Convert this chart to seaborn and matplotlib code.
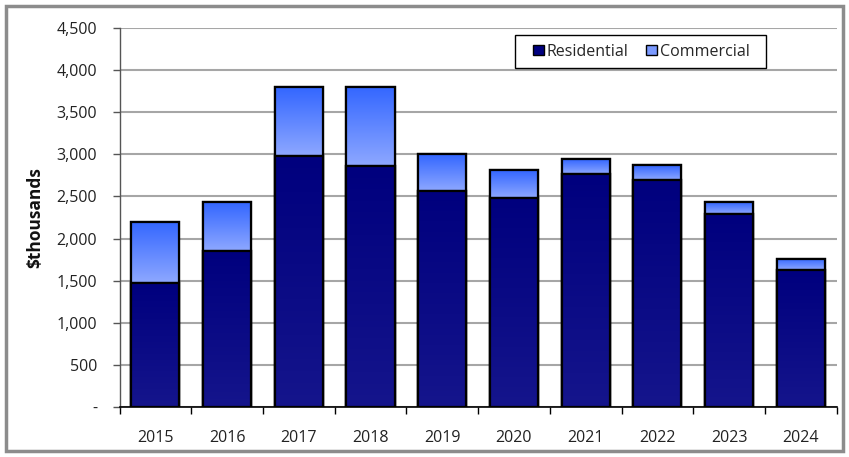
import numpy as np
import pandas as pd
import matplotlib
matplotlib.use("Agg")
import matplotlib.pyplot as plt
import matplotlib.patches as mpatches
from matplotlib.colors import LinearSegmentedColormap
import seaborn as sns

# Annual values, $thousands
years = ["2015", "2016", "2017", "2018", "2019", "2020", "2021", "2022", "2023", "2024"]
residential = [1470, 1850, 2980, 2860, 2570, 2480, 2770, 2700, 2290, 1620]
commercial = [730, 580, 820, 940, 430, 330, 170, 170, 140, 140]
y_ticks = [0, 500, 1000, 1500, 2000, 2500, 3000, 3500, 4000, 4500]
y_tick_labels = ["-", "500", "1,000", "1,500", "2,000", "2,500", "3,000", "3,500", "4,000", "4,500"]

df = pd.DataFrame({"year": years, "Residential": residential, "Commercial": commercial})
df["Total"] = df["Residential"] + df["Commercial"]

sns.set_theme(style="white")
plt.rcParams["font.family"] = ["Open Sans", "DejaVu Sans"]

W, H = 849, 457
fig = plt.figure(figsize=(W / 100, H / 100), dpi=100)
ax = fig.add_axes([119.5 / W, 1 - 406.7 / H, (836.7 - 119.5) / W, (406.7 - 28.3) / H])

RES_TOP, RES_BOT = "#00007e", "#15158c"
COM_TOP, COM_BOT = "#3366ff", "#8ea8ff"
EDGE_W = 1.6

sns.barplot(data=df, x="year", y="Total", color=COM_BOT, width=0.67,
            saturation=1, edgecolor="black", linewidth=EDGE_W, ax=ax, zorder=3)
n_bars = len(ax.patches)
sns.barplot(data=df, x="year", y="Residential", color=RES_BOT, width=0.67,
            saturation=1, edgecolor="black", linewidth=EDGE_W, ax=ax, zorder=4)
total_bars = ax.patches[:n_bars]
res_bars = ax.patches[n_bars:2 * n_bars]


def shade(patch, y_lo, y_hi, top, bottom, z):
    """Vertical colour gradient over [y_lo, y_hi] of a bar, clipped to the bar."""
    x0, w = patch.get_x(), patch.get_width()
    cmap = LinearSegmentedColormap.from_list("g", [bottom, top])
    grad = np.linspace(0, 1, 256).reshape(-1, 1)
    im = ax.imshow(grad, cmap=cmap, aspect="auto", origin="lower",
                   extent=(x0, x0 + w, y_lo, y_hi), zorder=z + 0.1,
                   interpolation="bilinear")
    im.set_clip_path(patch)
    ax.add_patch(mpatches.Rectangle((x0, patch.get_y()), w, patch.get_height(),
                                    fill=False, edgecolor="black",
                                    linewidth=EDGE_W, zorder=z + 0.2))


for tp, rp in zip(total_bars, res_bars):
    shade(tp, rp.get_height(), tp.get_height(), COM_TOP, COM_BOT, 3)
    shade(rp, 0, rp.get_height(), RES_TOP, RES_BOT, 4)

ax.set_xlim(-0.5, len(years) - 0.5)
ax.set_ylim(0, 4500)
ax.set_yticks(y_ticks)
ax.set_yticklabels(y_tick_labels)
ax.yaxis.grid(True, color="#a6a6a6", linewidth=1.5, zorder=0)
ax.set_axisbelow(True)

ax.set_xlabel("")
ax.set_ylabel("\\$thousands", fontsize=12.5, fontweight="bold", labelpad=9,
              color="#111111")

for s in ["top", "right"]:
    ax.spines[s].set_visible(False)
ax.spines["left"].set_color("#555555")
ax.spines["left"].set_linewidth(1.0)
ax.spines["bottom"].set_color("black")
ax.spines["bottom"].set_linewidth(1.2)

ax.tick_params(axis="y", which="major", left=True, length=5, width=1,
               color="#555555", labelsize=11.5, pad=11)
ax.set_xticks(np.arange(-0.5, len(years), 1.0), minor=True)
ax.tick_params(axis="x", which="major", bottom=False, labelsize=11.5, pad=11)
ax.tick_params(axis="x", which="minor", bottom=True, length=5, width=1, color="black")
for lbl in ax.get_xticklabels() + ax.get_yticklabels():
    lbl.set_color("#222222")

# legend: plain frame box with the two entries centred inside
fig.add_artist(mpatches.Rectangle((515 / W, 1 - 68 / H), 251 / W, 33 / H,
                                  transform=fig.transFigure, facecolor="white",
                                  edgecolor="black", linewidth=1.0, zorder=10))
handles = [
    mpatches.Patch(facecolor="#000080", edgecolor="black", linewidth=1.0, label="Residential"),
    mpatches.Patch(facecolor="#7b9aff", edgecolor="black", linewidth=1.0, label="Commercial"),
]
leg = fig.legend(handles=handles, loc="center", bbox_to_anchor=(641.5 / W, 1 - 51.5 / H),
                 ncol=2, frameon=False, fontsize=11.5,
                 handlelength=0.65, handleheight=0.65, handletextpad=0.2,
                 columnspacing=1.1, borderpad=0.0)
leg.set_zorder(11)

# grey outer border around the whole chart
fig.add_artist(mpatches.Rectangle((6 / W, 6 / H), 1 - 12 / W, 1 - 12 / H,
                                  transform=fig.transFigure, fill=False,
                                  edgecolor="#8c8c8c", linewidth=2.5))

fig.savefig("out.png", dpi=100)
